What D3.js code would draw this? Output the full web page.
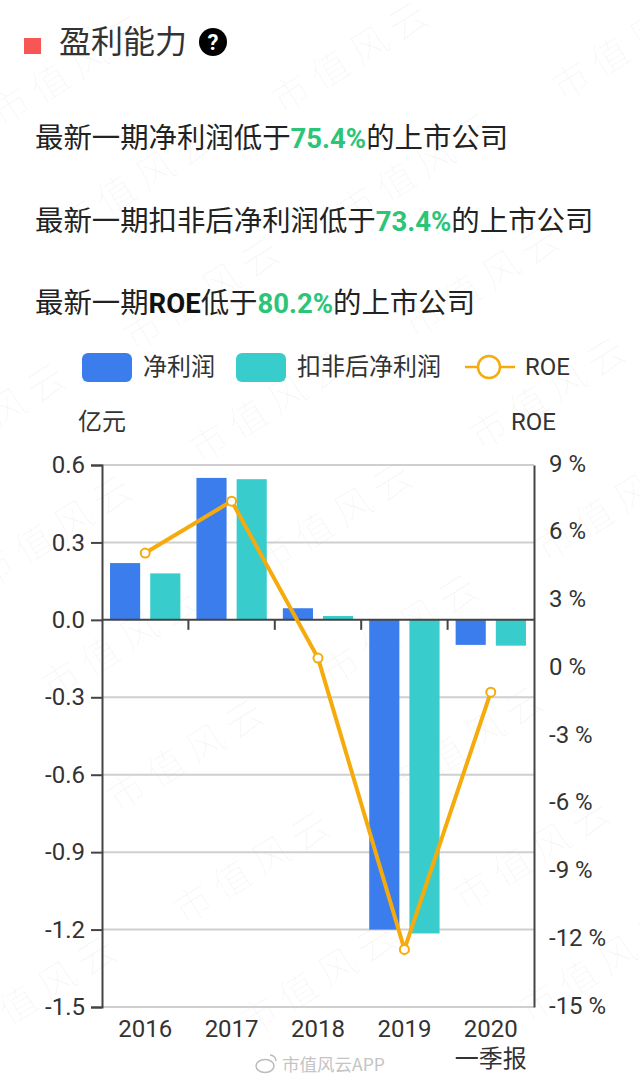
<!DOCTYPE html>
<html>
<head>
<meta charset="utf-8">
<script src="https://cdn.jsdelivr.net/npm/d3@7"></script>
<style>
html, body { margin: 0; padding: 0; background: #fff; }
svg { display: block; }
text { font-family: Roboto, "Noto Sans CJK SC", sans-serif; fill: #333; }
.cjk { font-family: "Noto Sans CJK SC", sans-serif; }
</style>
</head>
<body>
<div id="chart"></div>
<script>
const years = ["2016", "2017", "2018", "2019", "2020"]
const netProfit = [0.22, 0.55, 0.045, -1.2, -0.097]
const deductedProfit = [0.18, 0.545, 0.015, -1.215, -0.1]
const roe = [5.1, 7.4, 0.45, -12.45, -1.06]
const leftTicks = [0.6, 0.3, 0, -0.3, -0.6, -0.9, -1.2, -1.5]
const rightTicks = [9, 6, 3, 0, -3, -6, -9, -12, -15]
const seriesNames = ["净利润", "扣非后净利润", "ROE"]
const summaryLines = [
    ["最新一期净利润低于", "75.4%", "的上市公司"],
    ["最新一期扣非后净利润低于", "73.4%", "的上市公司"],
    ["最新一期", "ROE", "低于", "80.2%", "的上市公司"]
]

const width = 640
const height = 1080
const margin = {top: 465, right: 106, bottom: 73, left: 102}
const colors = {net: "#3b7ded", deducted: "#38cccc", roe: "#f6ab0c", green: "#2cc577"}

const svg = d3.select("#chart")
    .append("svg")
    .attr("width", width)
    .attr("height", height)
    .attr("viewBox", [0, 0, width, height])

const layer_mark = svg.append("g")
const layer_head = svg.append("g")
const layer_legend = svg.append("g")
const layer_grid = svg.append("g")
const layer_bars = svg.append("g")
const layer_axes = svg.append("g")
const layer_line = svg.append("g")

const x = d3.scaleBand()
    .domain(years)
    .range([margin.left, width - margin.right])

const xInner = d3.scaleBand()
    .domain(["net", "deducted"])
    .range([0, x.bandwidth()])
    .paddingInner(0.25)
    .paddingOuter(0.2)

const y = d3.scaleLinear()
    .domain([-1.5, 0.6])
    .range([height - margin.bottom, margin.top])

const yRight = d3.scaleLinear()
    .domain([-15, 9])
    .range([height - margin.bottom, margin.top])

// plain hyphen like the original labels, not the d3 minus sign
const leftFormat = d => d.toFixed(1)

// watermark, a slanted lattice over the whole page
for (let row = -2; row < 11; row++) {
    for (let col = -4; col < 4; col++) {
        const mx = 80 + col * 280 + row * 66
        const my = 80 - col * 13 + row * 112
        if (mx < -10 || mx > 650 || my < 0 || my > 1080) continue
        layer_mark.append("text")
            .attr("class", "cjk")
            .attr("transform", `translate(${mx},${my}) rotate(-32)`)
            .attr("text-anchor", "middle")
            .attr("font-size", 38)
            .attr("font-weight", 300)
            .attr("letter-spacing", 8)
            .style("fill", "#000")
            .style("fill-opacity", 0.03)
            .text("市值风云")
    }
}

// heading
layer_head.append("rect")
    .attr("x", 24).attr("y", 38).attr("width", 17).attr("height", 16)
    .attr("fill", "#f85555")
layer_head.append("text")
    .attr("class", "cjk")
    .attr("x", 59).attr("y", 53)
    .attr("font-size", 32)
    .text("盈利能力")
layer_head.append("circle")
    .attr("cx", 213).attr("cy", 42).attr("r", 14)
    .attr("fill", "#000")
layer_head.append("text")
    .attr("x", 213).attr("y", 50)
    .attr("text-anchor", "middle")
    .attr("font-size", 22)
    .attr("font-weight", 700)
    .style("fill", "#fff")
    .text("?")

const isLatin = d => /^[\dA-Z]/.test(d)

const summary = layer_head.selectAll("text.summary")
    .data(summaryLines)
    .join("text")
    .attr("class", "summary cjk")
    .attr("x", 35)
    .attr("y", (d, i) => 148 + i * 82.5)
    .attr("font-size", 28.4)
    .style("fill", "#222")

summary.selectAll("tspan")
    .data(d => d)
    .join("tspan")
    .attr("font-weight", d => isLatin(d) ? 700 : 400)
    .attr("font-size", d => isLatin(d) ? 27.5 : 28.4)
    .style("font-family", d => isLatin(d) ? "Roboto" : null)
    .style("fill", d => /%/.test(d) ? colors.green : (d === "ROE" ? "#111" : null))
    .text(d => d)

// legend
const legendRects = [[82, colors.net, seriesNames[0], 143], [236, colors.deducted, seriesNames[1], 297]]
legendRects.forEach(([lx, color, name, tx]) => {
    layer_legend.append("rect")
        .attr("x", lx).attr("y", 353).attr("width", 50).attr("height", 29).attr("rx", 6)
        .attr("fill", color)
    layer_legend.append("text")
        .attr("class", "cjk")
        .attr("x", tx).attr("y", 375)
        .attr("font-size", 24)
        .text(name)
})
layer_legend.append("line")
    .attr("x1", 465).attr("x2", 515).attr("y1", 367).attr("y2", 367)
    .attr("stroke", colors.roe).attr("stroke-width", 2.5)
layer_legend.append("circle")
    .attr("cx", 489).attr("cy", 367).attr("r", 11)
    .attr("fill", "#fff").attr("stroke", colors.roe).attr("stroke-width", 2.5)
layer_legend.append("text")
    .attr("x", 525).attr("y", 375)
    .attr("font-size", 24)
    .text(seriesNames[2])

// axis titles
layer_axes.append("text")
    .attr("class", "cjk")
    .attr("x", 78).attr("y", 430)
    .attr("font-size", 24)
    .text("亿元")
layer_axes.append("text")
    .attr("x", 511).attr("y", 430)
    .attr("font-size", 24)
    .text("ROE")

// grid
layer_grid.selectAll("line")
    .data(leftTicks.filter(d => d !== 0))
    .join("line")
    .attr("x1", margin.left)
    .attr("x2", width - margin.right)
    .attr("y1", d => y(d))
    .attr("y2", d => y(d))
    .attr("stroke", "#cfcfcf")
    .attr("stroke-width", 2)

// bars
const barGroups = layer_bars.selectAll("g")
    .data(years)
    .join("g")
    .attr("transform", d => `translate(${x(d)},0)`)

barGroups.append("rect")
    .attr("x", xInner("net"))
    .attr("width", xInner.bandwidth())
    .attr("y", (d, i) => y(Math.max(0, netProfit[i])))
    .attr("height", (d, i) => Math.abs(y(netProfit[i]) - y(0)))
    .attr("fill", colors.net)

barGroups.append("rect")
    .attr("x", xInner("deducted"))
    .attr("width", xInner.bandwidth())
    .attr("y", (d, i) => y(Math.max(0, deductedProfit[i])))
    .attr("height", (d, i) => Math.abs(y(deductedProfit[i]) - y(0)))
    .attr("fill", colors.deducted)

// axes
const axisColor = "#444"
layer_axes.append("g")
    .attr("transform", `translate(${margin.left},0)`)
    .call(d3.axisLeft(y).tickValues(leftTicks).tickSize(11).tickPadding(6).tickFormat(leftFormat))
    .call(g => g.selectAll("path, line").attr("stroke", axisColor).attr("stroke-width", 2))
    .call(g => g.selectAll("text").attr("font-size", 24).style("fill", "#333").style("font-family", "Roboto"))

layer_axes.append("g")
    .attr("transform", `translate(${width - margin.right},0)`)
    .call(d3.axisRight(yRight).tickValues(rightTicks).tickSize(0).tickPadding(15).tickFormat(d => `${d} %`))
    .call(g => g.select(".domain").attr("stroke", axisColor).attr("stroke-width", 2))
    .call(g => g.selectAll("text").attr("font-size", 24).attr("dy", "0.25em").style("fill", "#333").style("font-family", "Roboto"))

// zero line with ticks on the band edges
layer_axes.append("line")
    .attr("x1", margin.left).attr("x2", width - margin.right)
    .attr("y1", y(0)).attr("y2", y(0))
    .attr("stroke", axisColor).attr("stroke-width", 2)
layer_axes.append("g")
    .selectAll("line")
    .data(years.slice(1))
    .join("line")
    .attr("x1", d => x(d)).attr("x2", d => x(d))
    .attr("y1", y(0)).attr("y2", y(0) + 10)
    .attr("stroke", axisColor).attr("stroke-width", 2)

layer_axes.append("g")
    .attr("transform", `translate(0,${height - margin.bottom})`)
    .call(d3.axisBottom(x).tickSize(0).tickPadding(13))
    .call(g => g.select(".domain").remove())
    .call(g => g.selectAll("text").attr("font-size", 24).style("fill", "#333").style("font-family", "Roboto"))
layer_axes.append("text")
    .attr("class", "cjk")
    .attr("x", x("2020") + x.bandwidth() / 2)
    .attr("y", 1067)
    .attr("text-anchor", "middle")
    .attr("font-size", 24)
    .text("一季报")

// ROE line
const roeLine = d3.line()
    .x(d => x(d.year) + x.bandwidth() / 2)
    .y(d => yRight(d.value))
const roePoints = years.map((year, i) => ({year, value: roe[i]}))

layer_line.append("path")
    .datum(roePoints)
    .attr("fill", "none")
    .attr("stroke", colors.roe)
    .attr("stroke-width", 4)
    .attr("d", roeLine)

layer_line.selectAll("circle")
    .data(roePoints)
    .join("circle")
    .attr("cx", d => x(d.year) + x.bandwidth() / 2)
    .attr("cy", d => yRight(d.value))
    .attr("r", 4.5)
    .attr("fill", "#fff")
    .attr("stroke", colors.roe)
    .attr("stroke-width", 2)

// weibo credit at the bottom
layer_mark.append("ellipse")
    .attr("cx", 265).attr("cy", 1066).attr("rx", 9).attr("ry", 6.5)
    .attr("fill", "none").attr("stroke", "#bbb").attr("stroke-width", 1.5)
layer_mark.append("path")
    .attr("d", "M270,1055 a6,6 0 0 1 6,6")
    .attr("fill", "none").attr("stroke", "#bbb").attr("stroke-width", 1.5)
layer_mark.append("text")
    .attr("class", "cjk")
    .attr("x", 282).attr("y", 1071)
    .attr("font-size", 17.5)
    .style("fill", "#c4c4c4")
    .text("市值风云APP")
</script>
</body>
</html>
